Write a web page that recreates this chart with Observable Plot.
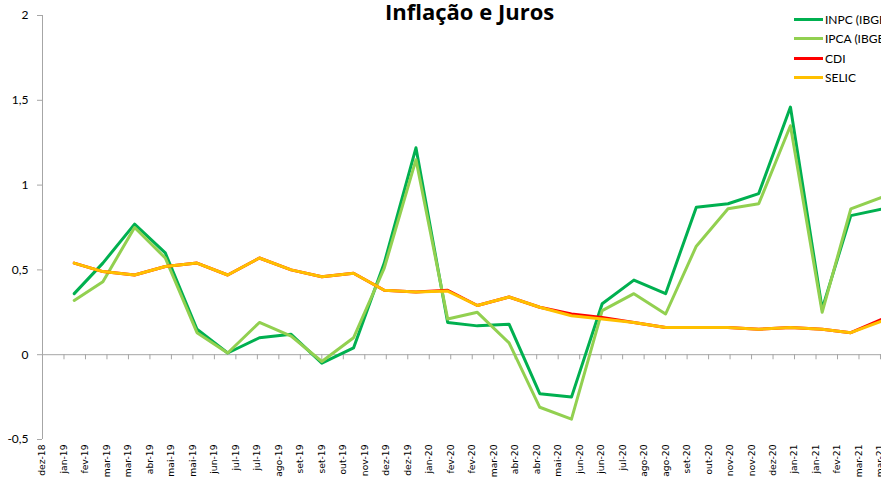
<!DOCTYPE html>
<html>
<head>
<meta charset="utf-8">
<script src="https://cdn.jsdelivr.net/npm/d3@7"></script>
<script src="https://cdn.jsdelivr.net/npm/@observablehq/plot@0.6"></script>
<style>
  html, body { margin: 0; padding: 0; background: #fff; }
  #wrap { position: relative; width: 881px; height: 479px; overflow: hidden; background: #fff; }
  #chart { position: absolute; left: 0; top: 0; }
  #title { position: absolute; left: 385px; top: 0; font-family: "Open Sans", sans-serif; font-weight: 700; font-size: 22px; line-height: 22px; color: #000; white-space: nowrap; }
  #legend { position: absolute; left: 794px; top: 9.5px; font-family: Lato, sans-serif; font-size: 12px; color: #000; white-space: nowrap; }
  .item { display: flex; align-items: center; height: 19.5px; }
  .sw { width: 29px; height: 3px; margin-right: 2px; }
</style>
</head>
<body>
<div id="wrap">
  <div id="chart"></div>
  <div id="title">Inflação e Juros</div>
  <div id="legend"></div>
</div>
<script>
// Monthly observation dates (month end)
const months = [
  "2019-01-31","2019-02-28","2019-03-31","2019-04-30","2019-05-31","2019-06-30",
  "2019-07-31","2019-08-31","2019-09-30","2019-10-31","2019-11-30","2019-12-31",
  "2020-01-31","2020-02-29","2020-03-31","2020-04-30","2020-05-31","2020-06-30",
  "2020-07-31","2020-08-31","2020-09-30","2020-10-31","2020-11-30","2020-12-31",
  "2021-01-31","2021-02-28","2021-03-31"
];
const inpc  = [0.36,0.54,0.77,0.60,0.15,0.01,0.10,0.12,-0.05,0.04,0.54,1.22,0.19,0.17,0.18,-0.23,-0.25,0.30,0.44,0.36,0.87,0.89,0.95,1.46,0.27,0.82,0.86];
const ipca  = [0.32,0.43,0.75,0.57,0.13,0.01,0.19,0.11,-0.04,0.10,0.51,1.15,0.21,0.25,0.07,-0.31,-0.38,0.26,0.36,0.24,0.64,0.86,0.89,1.35,0.25,0.86,0.93];
const cdi   = [0.54,0.49,0.47,0.52,0.54,0.47,0.57,0.50,0.46,0.48,0.38,0.37,0.38,0.29,0.34,0.28,0.24,0.22,0.19,0.16,0.16,0.16,0.15,0.16,0.15,0.13,0.21];
const selic = [0.54,0.49,0.47,0.52,0.54,0.47,0.57,0.50,0.46,0.48,0.38,0.37,0.375,0.29,0.34,0.28,0.23,0.21,0.19,0.16,0.16,0.16,0.15,0.16,0.15,0.13,0.20];

const seriesNames  = ["INPC (IBGE)", "IPCA (IBGE)", "CDI", "SELIC"];
const seriesColors = ["#00B050", "#92D050", "#FF0000", "#FFC000"];
const seriesValues = [inpc, ipca, cdi, selic];

// Axis ticks
const yTicks = [-0.5, 0, 0.5, 1, 1.5, 2];
const xTicks = [
  "2018-12-31","2019-01-21","2019-02-11","2019-03-04","2019-03-25","2019-04-15","2019-05-06","2019-05-27",
  "2019-06-17","2019-07-08","2019-07-29","2019-08-19","2019-09-09","2019-09-30","2019-10-21","2019-11-11",
  "2019-12-02","2019-12-23","2020-01-13","2020-02-03","2020-02-24","2020-03-16","2020-04-06","2020-04-27",
  "2020-05-18","2020-06-08","2020-06-29","2020-07-20","2020-08-10","2020-08-31","2020-09-21","2020-10-12",
  "2020-11-02","2020-11-23","2020-12-14","2021-01-04","2021-01-25","2021-02-15","2021-03-08","2021-03-29"
];
const ptMonths = ["jan","fev","mar","abr","mai","jun","jul","ago","set","out","nov","dez"];
const xDomain = ["2018-12-31", "2021-03-30"];

const xTickDates = xTicks.map(s => new Date(s));
const fmtX = d => `${ptMonths[d.getUTCMonth()]}-${String(d.getUTCFullYear()).slice(2)}`;
const fmtY = d => String(d).replace(".", ",");

const data = [];
seriesNames.forEach((name, si) => {
  seriesValues[si].forEach((v, i) => data.push({series: name, date: new Date(months[i]), value: v}));
});

const gray = "#a6a6a6";
const lineMarks = seriesNames.map((name, si) =>
  Plot.line(data.filter(d => d.series === name), {
    x: "date", y: "value", stroke: seriesColors[si], strokeWidth: 3,
    strokeLinejoin: "round", strokeLinecap: "round", clip: true
  })
);

const chart = Plot.plot({
  width: 881,
  height: 479,
  marginLeft: 42,
  marginRight: 0,
  marginTop: 15,
  marginBottom: 40,
  style: {background: "transparent", fontFamily: "Lato, sans-serif"},
  x: {type: "utc", domain: xDomain.map(s => new Date(s))},
  y: {domain: [-0.5, 2]},
  marks: [
    Plot.ruleY([0], {stroke: gray, strokeWidth: 1}),
    Plot.ruleX(xTickDates, {y1: 0, y2: -0.03, stroke: gray}),
    Plot.ruleX([new Date(xDomain[0])], {stroke: gray}),
    Plot.axisY(yTicks, {tickFormat: fmtY, tickSize: 5, tickPadding: 9, stroke: gray, fill: "#000",
      fontSize: 12, fontFamily: "Lato, sans-serif", label: null}),
    Plot.axisX(xTickDates, {tickFormat: fmtX, tickRotate: -90, tickSize: 0, tickPadding: 5,
      fill: "#000", fontSize: 9.2, fontFamily: "DejaVu Sans, sans-serif", label: null}),
    ...lineMarks
  ]
});
document.getElementById("chart").appendChild(chart);

// Legend
const legend = document.getElementById("legend");
seriesNames.forEach((name, i) => {
  const row = document.createElement("div");
  row.className = "item";
  const sw = document.createElement("span");
  sw.className = "sw";
  sw.style.background = seriesColors[i];
  const tx = document.createElement("span");
  tx.textContent = name;
  row.appendChild(sw);
  row.appendChild(tx);
  legend.appendChild(row);
});
</script>
</body>
</html>
